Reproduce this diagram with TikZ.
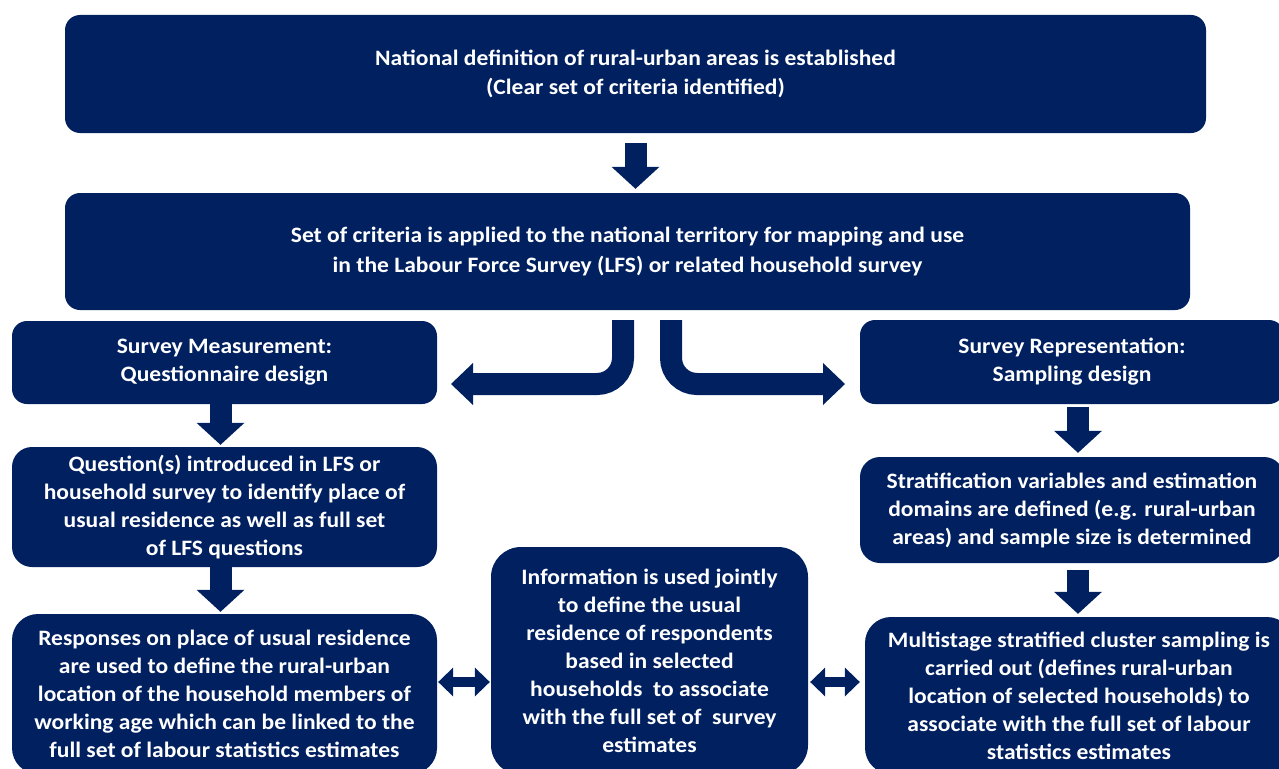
\documentclass[tikz,border=0pt]{standalone}
\usepackage{fontspec}
\setmainfont{Carlito}[FakeStretch=1.07]
\usepackage{tikz}
\usetikzlibrary{arrows.meta}
\definecolor{navy}{HTML}{002060}

\begin{document}
\begin{tikzpicture}[x=1pt, y=-1pt,
  box/.style={fill=navy, text=white, shape=rectangle, rounded corners=15pt, align=center, inner sep=0pt, font=\fontsize{22}{28}\selectfont\bfseries},
  widebox/.style={box, font=\fontsize{22}{29.5}\selectfont\bfseries},
  bigbox/.style={box, rounded corners=26pt},
  downarr/.style={navy, line width=22pt, -{Triangle[length=22pt, width=48pt, line width=0pt]}},
  bentarr/.style={navy, line width=22pt, rounded corners=26pt, -{Triangle[length=22pt, width=42pt, line width=0pt]}},
  dblarr/.style={navy, line width=10pt, {Triangle[length=15pt, width=29pt, line width=0pt]}-{Triangle[length=15pt, width=29pt, line width=0pt]}}]
\useasboundingbox (0,0) rectangle (1279,768);
\node[widebox, minimum width=1141pt, minimum height=118pt] (def) at (635.5,74) {National definition of rural-urban areas is established\\(Clear set of criteria identified)};
\node[widebox, minimum width=1125pt, minimum height=117pt] (crit) at (627.5,251.5) {Set of criteria is applied to the national territory for mapping and use\\in the Labour Force Survey (LFS) or related household survey};
\node[box, minimum width=425pt, minimum height=83pt] (meas) at (224.5,362.5) {Survey Measurement:\\Questionnaire design};
\node[box, minimum width=424pt, minimum height=84pt] (repr) at (1072,362) {Survey Representation:\\Sampling design};
\node[box, rounded corners=20pt, minimum width=425pt, minimum height=120pt] (quest) at (224.5,507) {Question(s) introduced in LFS or\\household survey to identify place of\\usual residence as well as full set\\of LFS questions};
\node[box, rounded corners=20pt, minimum width=424pt, minimum height=106pt] (strat) at (1072,510) {Stratification variables and estimation\\domains are defined (e.g. rural-urban\\areas) and sample size is determined};
\node[bigbox, minimum width=425pt, minimum height=160pt] (resp) at (224.5,694) {Responses on place of usual residence\\are used to define the rural-urban\\location of the household members of\\working age which can be linked to the\\full set of labour statistics estimates};
\node[bigbox, rounded corners=30pt, minimum width=317pt, minimum height=228pt] (info) at (649.5,661) {Information is used jointly\\to define the usual\\residence of respondents\\based in selected\\households~ to associate\\with the full set of~ survey\\estimates};
\node[bigbox, minimum width=428pt, minimum height=157pt] (multi) at (1079,695.5) {Multistage stratified cluster sampling is\\carried out (defines rural-urban\\location of selected households) to\\associate with the full set of labour\\statistics estimates};
% block arrows
\draw[downarr, shorten <=10pt, shorten >=4pt] (def.south) -- (def.south |- crit.north);
\draw[downarr, shorten >=2pt] ([xshift=-4pt]meas.south) -- ([xshift=-4pt]quest.north);
\draw[downarr, shorten >=2pt] ([xshift=-4pt]quest.south) -- ([xshift=-4pt]resp.north);
\draw[downarr, shorten <=3pt, shorten >=4pt] ([xshift=6pt]repr.south) -- ([xshift=6pt]strat.north);
\draw[downarr, shorten <=7pt, shorten >=3pt] ([xshift=6pt]strat.south) -- ([xshift=6pt]strat.south |- multi.north);
\draw[bentarr] (623,320) |- (451,384);
\draw[bentarr] (671,320) |- (845,384);
\coordinate (dbl) at (0,682);
\draw[dblarr, shorten <=1pt, shorten >=1pt] (resp.east |- dbl) -- (info.west |- dbl);
\draw[dblarr, shorten <=2pt, shorten >=5pt] (info.east |- dbl) -- (multi.west |- dbl);
\end{tikzpicture}
\end{document}
